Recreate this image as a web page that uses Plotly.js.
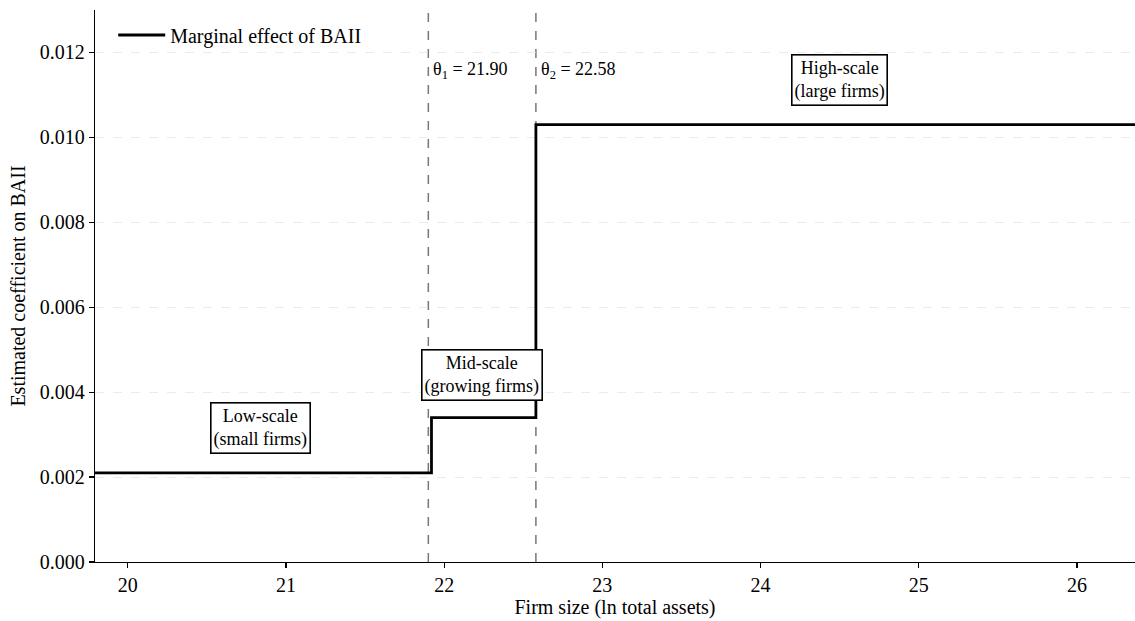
<!DOCTYPE html>
<html>
<head>
<meta charset="utf-8">
<script src="https://cdn.plot.ly/plotly-3.0.1.min.js"></script>
<style>html,body{margin:0;padding:0;background:#fff;}#chart{width:1135px;height:621px;}</style>
</head>
<body>
<div id="chart"></div>
<script>
// Data
const stepX = [19.79, 21.92, 22.58, 26.37];
const stepY = [0.0021, 0.0034, 0.0103, 0.0103];
const thresholds = [21.90, 22.58];
const thresholdLabels = ["θ<sub>1</sub> = 21.90", "θ<sub>2</sub> = 22.58"];
const regimeX = [20.84, 22.24, 24.5];
const regimeY = [0.00315, 0.00441, 0.01134];
const regimeLabels = ["Low-scale<br>(small firms)", "Mid-scale<br>(growing firms)", "High-scale<br>(large firms)"];
const xTicks = [20, 21, 22, 23, 24, 25, 26];
const yTicks = [0, 0.002, 0.004, 0.006, 0.008, 0.010, 0.012];

const FONT = "Liberation Serif, Times New Roman, serif";

const trace = {
  x: stepX, y: stepY, type: "scatter", mode: "lines",
  line: {shape: "hv", color: "#000", width: 2.8},
  name: "Marginal effect of BAII"
};

const shapes = thresholds.map(t => ({
  type: "line", xref: "x", yref: "paper", x0: t, x1: t, y0: 0, y1: 1,
  line: {color: "#777", width: 1.5, dash: "dash"}, layer: "below"
}));

const annotations = [];
thresholds.forEach((t, i) => {
  annotations.push({
    x: t, y: 0.01158, xref: "x", yref: "y", text: thresholdLabels[i],
    showarrow: false, xanchor: "left", xshift: 3, font: {family: FONT, size: 18, color: "#000"}
  });
});
regimeX.forEach((x, i) => {
  annotations.push({
    x: x, y: regimeY[i], xref: "x", yref: "y", text: regimeLabels[i],
    showarrow: false, align: "center", bgcolor: "#fff", bordercolor: "#000",
    borderwidth: 1.6, borderpad: 2, font: {family: FONT, size: 18, color: "#000"}
  });
});

const layout = {
  width: 1135, height: 621,
  margin: {l: 95, r: 0, t: 10, b: 59},
  paper_bgcolor: "#fff", plot_bgcolor: "#fff",
  font: {family: FONT, size: 18, color: "#000"},
  showlegend: true,
  legend: {x: 0.0175, y: 0.99, xanchor: "left", yanchor: "top", bgcolor: "rgba(0,0,0,0)",
           itemwidth: 47, font: {family: FONT, size: 20}},
  xaxis: {
    range: [19.793, 26.367], tickvals: xTicks, ticktext: xTicks.map(String),
    showgrid: false, zeroline: false, showline: true, linecolor: "#000", linewidth: 1.3,
    ticks: "outside", ticklen: 5, tickwidth: 1.2, tickcolor: "#000",
    title: {text: "Firm size (ln total assets)", font: {family: FONT, size: 20}, standoff: 4},
    tickfont: {family: FONT, size: 20}
  },
  yaxis: {
    range: [0, 0.013], tickvals: yTicks, ticktext: yTicks.map(v => v.toFixed(3)),
    showgrid: true, gridcolor: "#e2e2e2", griddash: "dash", gridwidth: 0.7,
    zeroline: false, showline: true, linecolor: "#000", linewidth: 1.3,
    ticks: "outside", ticklen: 5, tickwidth: 1.2, tickcolor: "#000",
    title: {text: "Estimated coefficient on BAII", font: {family: FONT, size: 20}, standoff: 8},
    tickfont: {family: FONT, size: 20}
  },
  shapes: shapes,
  annotations: annotations
};

Plotly.newPlot("chart", [trace], layout, {staticPlot: true, displayModeBar: false});
</script>
</body>
</html>
